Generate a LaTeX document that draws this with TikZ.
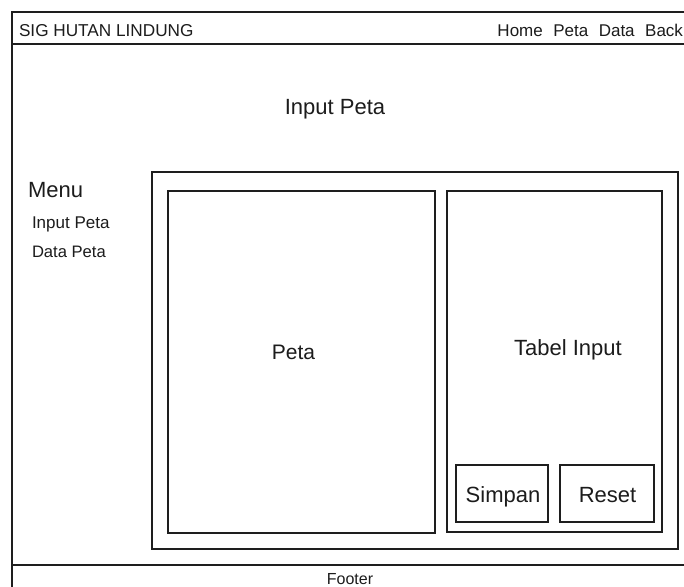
\documentclass[tikz,border=0pt]{standalone}
\usepackage{fontspec}
\setmainfont{Liberation Sans}
\definecolor{ink}{HTML}{1E1E1E}
\definecolor{txt}{HTML}{1C1C1C}
\tikzset{
  frame/.style={draw=ink, line width=1.8pt},
  boxr/.style={draw=ink, line width=1.8pt},
  lbl/.style={inner sep=0pt, outer sep=0pt, text=txt},
}
\newcommand{\fs}[1]{\fontsize{#1}{#1}\selectfont}
\begin{document}
\begin{tikzpicture}[x=1pt,y=-1pt]
\useasboundingbox (0,0) rectangle (684,586);
\fill[white] (0,0) rectangle (684,586);
% outer frame
\coordinate (tl) at (12,12);
\coordinate (tr) at (690,12);
\coordinate (bl) at (12,590);
\coordinate (hl) at (12,44);
\coordinate (hr) at (690,44);
\coordinate (fl) at (12,565);
\coordinate (fr) at (690,565);
\draw[frame] (bl) -- (tl) -- (tr);
\draw[frame] (hl) -- (hr);
\draw[frame] (fl) -- (fr);
% boxes
\draw[boxr] (152,172) rectangle (678,549);
\draw[boxr] (168,191) rectangle (435,533);
\draw[boxr] (447,191) rectangle (662,532);
\draw[boxr] (456,465) rectangle (548,522);
\draw[boxr] (560,465) rectangle (654,522);
% texts
\node[lbl, anchor=base west] (title) at (19,36.5) {\fs{17.2}SIG HUTAN LINDUNG};
\node[lbl, anchor=base east] (nav) at (683,36.5) {\fs{17}Home\hspace{10.5pt}Peta\hspace{10.5pt}Data\hspace{10.5pt}Back};
\node[lbl, anchor=base] (page) at (335,114) {\fs{22}Input Peta};
\node[lbl, anchor=base west] (menu) at (28,197) {\fs{22}Menu};
\node[lbl, anchor=base west] (m1) at (32,228) {\fs{17}Input Peta};
\node[lbl, anchor=base west] (m2) at (32,257) {\fs{16.6}Data Peta};
\node[lbl, anchor=base] (peta) at (293.5,359) {\fs{21}Peta};
\node[lbl, anchor=base] (tabel) at (568,355) {\fs{22}Tabel Input};
\node[lbl, anchor=base] (simpan) at (503,502.5) {\fs{22}Simpan};
\node[lbl, anchor=base] (reset) at (607.5,502.5) {\fs{22}Reset};
\node[lbl, anchor=base] (footer) at (350,584) {\fs{16}Footer};
\end{tikzpicture}
\end{document}
